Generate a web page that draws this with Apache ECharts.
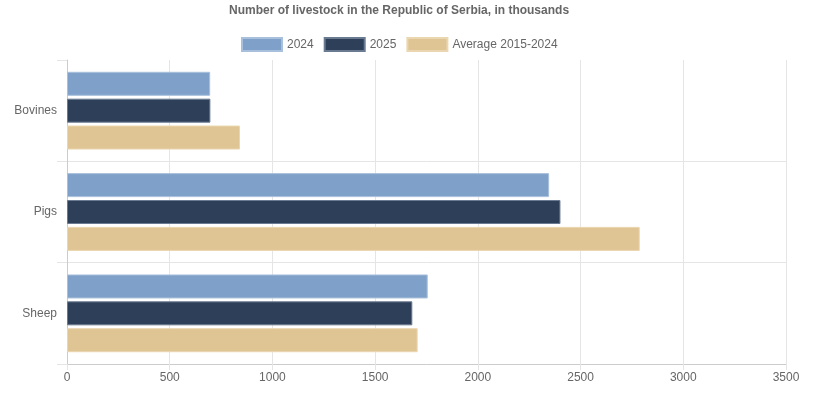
<!DOCTYPE html>
<html><head><meta charset="utf-8">
<script src="https://cdn.jsdelivr.net/npm/echarts@6/dist/echarts.min.js"></script>
<style>html,body{margin:0;padding:0;background:#fff}#c{width:821px;height:404px}</style>
</head><body><div id="c"></div>
<script>
const categories = ['Bovines', 'Pigs', 'Sheep'];
const series2024 = [697, 2347, 1756];
const series2025 = [698, 2402, 1681];
const seriesAvg = [842, 2788, 1707];
const seriesNames = ['2024', '2025', 'Average 2015-2024'];

const font = 'Liberation Sans, Arial, sans-serif';
const chart = echarts.init(document.getElementById('c'));
function mk(name, data, color, border) {
  return {
    name, type: 'bar', data, barWidth: 24, barGap: '12%',
    itemStyle: { color, borderColor: border, borderWidth: 1 },
    emphasis: { disabled: true }
  };
}
chart.setOption({
  animation: false,
  textStyle: { fontFamily: font },
  title: {
    text: 'Number of livestock in the Republic of Serbia, in thousands',
    left: 224, top: 0,
    textStyle: { fontSize: 12, fontWeight: 'bold', color: '#666', fontFamily: font }
  },
  legend: {
    top: 32, left: 236, itemWidth: 40, itemHeight: 13, itemGap: 10, icon: 'rect',
    textStyle: { fontSize: 12, color: '#666', fontFamily: font },
    data: seriesNames
  },
  grid: { left: 67, right: 35, top: 60, bottom: 40, containLabel: false },
  xAxis: {
    type: 'value', min: 0, max: 3500, interval: 500,
    axisLine: { show: true, lineStyle: { color: '#ccc' } },
    axisTick: { show: true, length: 6, lineStyle: { color: '#e5e5e5' } },
    axisLabel: { color: '#666', fontSize: 12, margin: 8, fontFamily: font, formatter: v => String(v) },
    splitLine: { show: true, lineStyle: { color: '#e5e5e5' } }
  },
  yAxis: {
    type: 'category', data: categories, inverse: true,
    axisLine: { show: true, lineStyle: { color: '#ccc' } },
    axisTick: { show: true, length: 10, lineStyle: { color: '#e5e5e5' } },
    axisLabel: { color: '#666', fontSize: 12, margin: 10, fontFamily: font },
    splitLine: { show: true, showMinLine: false, lineStyle: { color: '#e5e5e5' } }
  },
  series: [
    mk(seriesNames[0], series2024, '#7fa1c9', '#a9c0dc'),
    mk(seriesNames[1], series2025, '#2e4059', '#6a7a90'),
    mk(seriesNames[2], seriesAvg, '#e0c594', '#ead6b0')
  ]
});
</script></body></html>
